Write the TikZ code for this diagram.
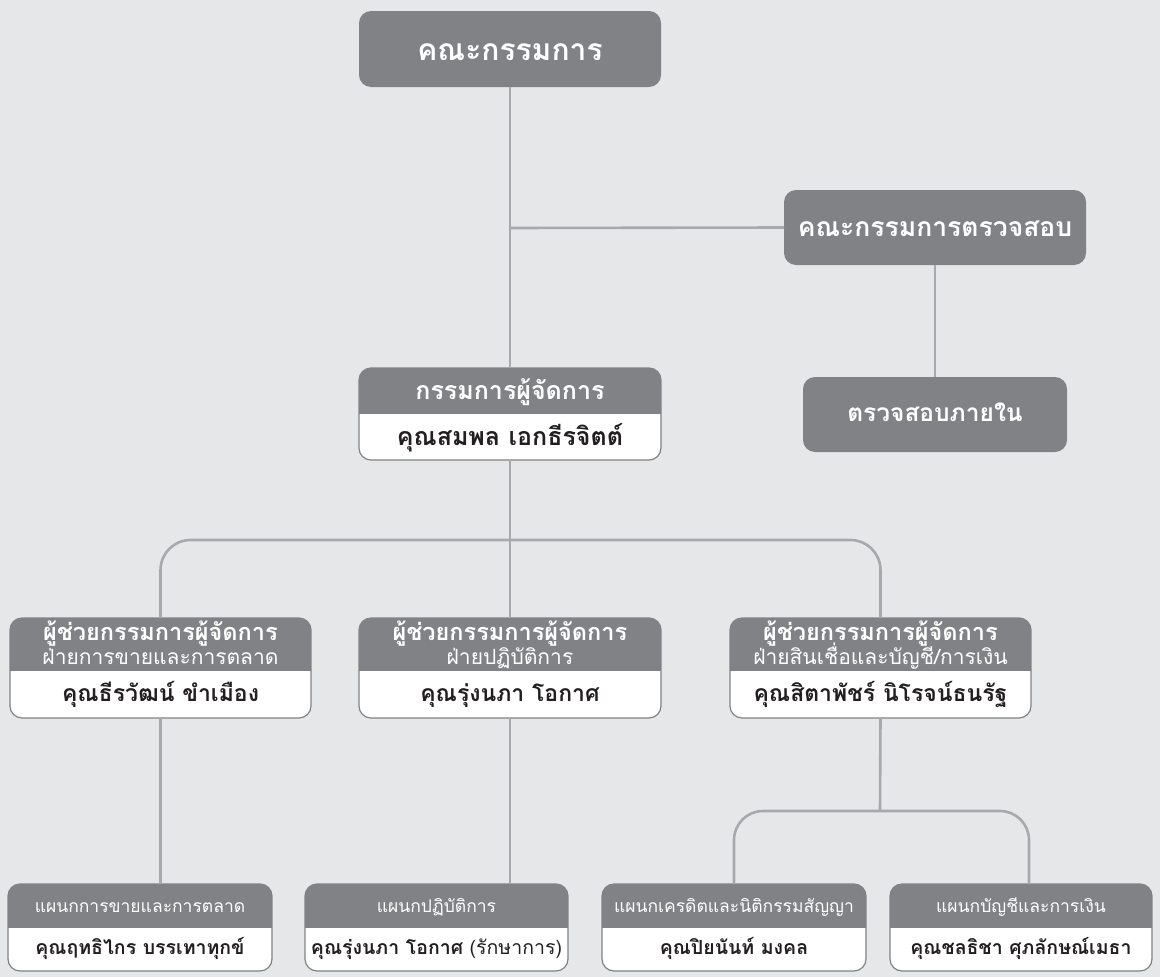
\documentclass[tikz,border=0pt]{standalone}
\usepackage{fontspec}
\usetikzlibrary{calc}
\newfontfamily\thai[Script=Thai]{Loma}
\definecolor{bg}{HTML}{E6E7E8}
\definecolor{boxgray}{HTML}{808285}
\definecolor{linegray}{HTML}{A7A9AC}
\definecolor{ink}{HTML}{231F20}
\newcommand\fs[1]{\fontsize{#1}{#1}\selectfont}
\tikzset{
  frame/.style={rectangle, inner sep=0pt, outer sep=0pt, draw=none},
  conn/.style={draw=linegray, line width=2.6pt},
  wtext/.style={text=white, inner sep=0pt, anchor=base},
  dtext/.style={text=ink, inner sep=0pt, anchor=base},
}
% solid box frame: name, x1, y1, x2, y2
\newcommand\solidbox[5]{%
  \node[frame, anchor=north west, minimum width={#4-#2}, minimum height={#5-#3}] (#1) at (#2,#3) {};
  \fill[boxgray, rounded corners=12pt] (#1.north west) rectangle (#1.south east);
}
% two-part box frame: name, x1, y1, x2, ymid, y2
\newcommand\twobox[6]{%
  \node[frame, anchor=north west, minimum width={#4-#2}, minimum height={#6-#3}] (#1) at (#2,#3) {};
  \begin{scope}
    \clip[rounded corners=12pt] (#1.north west) rectangle (#1.south east);
    \fill[white] (#1.north west) rectangle (#1.south east);
    \fill[boxgray] (#1.north west) rectangle (#4,#5);
  \end{scope}
  \draw[boxgray, line width=1.2pt, rounded corners=12pt] (#1.north west) rectangle (#1.south east);
}
\begin{document}
\begin{tikzpicture}[x=1pt,y=-1pt,font=\thai]
\fill[bg] (0,0) rectangle (1160,977);
\useasboundingbox (0,0) rectangle (1160,977);

\coordinate (j1) at (510,228);
\coordinate (j2) at (510,540);
\coordinate (j3) at (880,811);

% frames
\solidbox{board}{359}{11}{661}{87}
\solidbox{audit}{784}{190}{1086}{265}
\solidbox{internal}{803}{377}{1067}{452}
\twobox{md}{359}{368}{661}{414}{460}
\twobox{asstA}{10}{618}{311}{671}{718}
\twobox{asstB}{359}{618}{661}{671}{718}
\twobox{asstC}{730}{618}{1031}{671}{718}
\twobox{deptA}{8}{884}{272}{928}{971}
\twobox{deptB}{305}{884}{568}{928}{971}
\twobox{deptC}{602}{884}{866}{928}{971}
\twobox{deptD}{890}{884}{1152}{928}{971}

% texts
\node[wtext, font=\thai\fs{30}\bfseries] (boardt) at (510,60) {คณะกรรมการ};
\node[wtext, font=\thai\fs{26.5}\bfseries] (auditt) at (935,236) {คณะกรรมการตรวจสอบ};
\node[wtext, font=\thai\fs{24.5}\bfseries] (internalt) at (935,421) {ตรวจสอบภายใน};
\node[wtext, font=\thai\fs{25}\bfseries] (mdh) at (510,399) {กรรมการผู้จัดการ};
\node[dtext, font=\thai\fs{25}\bfseries] (mdn) at (510,445) {คุณสมพล เอกธีรจิตต์};

\tikzset{l2a/.style={wtext, font=\thai\fs{23.5}\bfseries},
         l2b/.style={wtext, font=\thai\fs{21}},
         l2n/.style={dtext, font=\thai\fs{23}\bfseries}}
\node[l2a] (asstAh1) at (160.5,640) {ผู้ช่วยกรรมการผู้จัดการ};
\node[l2b] (asstAh2) at (160.5,664.5) {ฝ่ายการขายและการตลาด};
\node[l2n] (asstAn) at (160.5,701) {คุณธีรวัฒน์ ขำเมือง};
\node[l2a] (asstBh1) at (510,640) {ผู้ช่วยกรรมการผู้จัดการ};
\node[l2b] (asstBh2) at (510,664.5) {ฝ่ายปฏิบัติการ};
\node[l2n] (asstBn) at (510,701) {คุณรุ่งนภา โอกาศ};
\node[l2a] (asstCh1) at (880.5,640) {ผู้ช่วยกรรมการผู้จัดการ};
\node[l2b] (asstCh2) at (880.5,664.5) {ฝ่ายสินเชื่อและบัญชี/การเงิน};
\node[l2n] (asstCn) at (880.5,701) {คุณสิตาพัชร์ นิโรจน์ธนรัฐ};

\tikzset{l3h/.style={wtext, font=\thai\fs{17.5}},
         l3n/.style={dtext, font=\thai\fs{19.5}\bfseries}}
\node[l3h] (deptAh) at (140,912) {แผนกการขายและการตลาด};
\node[l3n] (deptAn) at (140,954) {คุณฤทธิไกร บรรเทาทุกข์};
\node[l3h] (deptBh) at (436.5,912) {แผนกปฏิบัติการ};
\node[l3n] (deptBn) at (436.5,954) {คุณรุ่งนภา โอกาศ \mdseries(รักษาการ)};
\node[l3h] (deptCh) at (734,912) {แผนกเครดิตและนิติกรรมสัญญา};
\node[l3n] (deptCn) at (734,954) {คุณปิยนันท์ มงคล};
\node[l3h] (deptDh) at (1021,912) {แผนกบัญชีและการเงิน};
\node[l3n] (deptDn) at (1021,954) {คุณชลธิชา ศุภลักษณ์เมธา};

% connectors
\draw[conn] (board.south) -- (md.north);
\draw[conn] (j1) -- (audit.west);
\draw[conn] (audit.south) -- (internal.north);
\draw[conn] (md.south) -- (asstB.north);
\draw[conn, rounded corners=30pt] (asstA.north) |- (j2) -| (asstC.north);
\draw[conn] (asstA.south) -- (asstA.south |- deptA.north);
\draw[conn] (asstB.south) -- (asstB.south |- deptB.north);
\draw[conn] (asstC.south) -- (j3);
\draw[conn, rounded corners=29pt] (deptC.north) |- (j3) -| ($(deptD.north)+(8,0)$);
\end{tikzpicture}
\end{document}
